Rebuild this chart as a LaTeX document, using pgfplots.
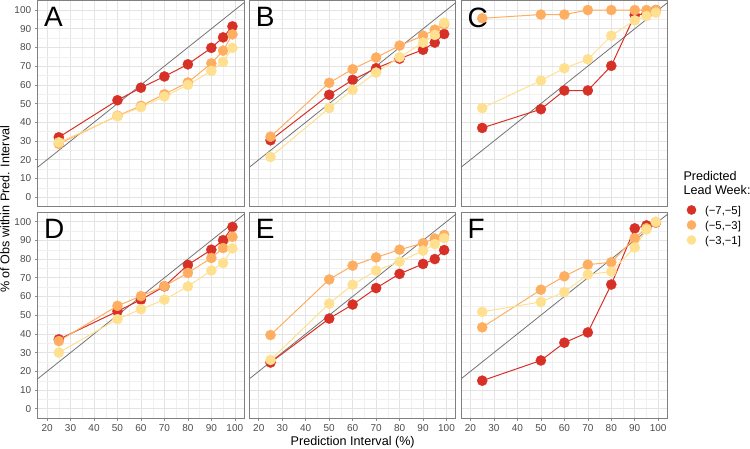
\documentclass[border=0pt]{standalone}
\usepackage{fontspec}
\setmainfont{Liberation Sans}
\usepackage{pgfplots}
\pgfplotsset{compat=1.18}
\usepackage{pgfplotstable}
\definecolor{cr}{HTML}{D73027}
\definecolor{co}{HTML}{FDAE61}
\definecolor{cy}{HTML}{FEE090}

\pgfplotstableread{
x  r    o    y
25 32.0 28.5 29.3
50 51.8 43.5 43.2
60 58.5 48.8 48.1
70 64.5 55.0 53.8
80 71.0 61.3 60.0
90 79.8 71.5 67.5
95 85.4 78.3 72.3
99 91.3 87.0 79.8
}\tA
\pgfplotstableread{
x  r    o    y
25 30.4 32.3 21.5
50 54.7 61.1 47.6
60 62.7 68.4 57.4
70 68.9 74.6 66.6
80 74.0 81.0 74.8
90 78.8 86.3 82.6
95 82.6 89.5 86.7
99 87.2 92.5 93.2
}\tB
\pgfplotstableread{
x  r     o     y
25 37.0  95.6  47.6
50 47.0  97.6  62.3
60 57.0  97.6  68.9
70 57.0  100.0 73.7
80 70.2  100.0 86.3
90 97.3  100.0 94.5
95 98.0  100.0 96.8
99 100.0 100.0 98.6
}\tC
\pgfplotstableread{
x  r    o    y
25 37.1 36.2 30.0
50 52.1 55.0 47.9
60 58.3 60.2 53.2
70 65.4 65.5 58.3
80 76.9 72.6 65.4
90 85.0 80.6 73.9
95 90.1 85.9 77.9
99 97.2 91.9 85.7
}\tD
\pgfplotstableread{
x  r    o    y
25 24.7 39.4 26.1
50 48.2 69.1 56.2
60 55.7 76.5 66.3
70 64.5 80.9 73.9
80 72.1 85.0 78.6
90 77.4 88.5 84.5
95 80.0 91.0 88.0
99 84.8 92.9 91.2
}\tE
\pgfplotstableread{
x  r    o    y
25 15.0 43.5 51.8
50 25.8 63.6 57.1
60 35.3 70.8 62.4
70 40.8 77.0 71.7
80 66.4 78.3 73.3
90 96.4 91.2 86.2
95 98.0 96.5 95.8
99 99.5 99.5 100.0
}\tF

\pgfplotsset{
  panel/.style={
    scale only axis, width=206.5pt, height=205.8pt, anchor=north west,
    xmin=16, xmax=104, ymin=-5, ymax=105,
    xtick={20,30,...,100}, ytick={0,10,...,100}, minor tick num=1,
    grid=both,
    major grid style={black!11, line width=0.6pt},
    minor grid style={black!6, line width=0.35pt},
    axis line style={black!50, line width=0.9pt},
    tick align=outside, major tick length=3pt, minor tick length=0pt,
    xtick pos=bottom, ytick pos=left,
    tick style={black!45, line width=0.6pt},
    ticklabel style={font=\fontsize{10}{12}\selectfont, text=black!70},
    /pgf/number format/assume math mode=true,
  },
  nox/.style={xticklabels={}, xtick style={draw=none}},
  noy/.style={yticklabels={}, ytick style={draw=none}},
  diag/.style={black!55, line width=0.8pt, no marks, forget plot},
  ln/.style={color=#1, line width=1.0pt, no marks, forget plot},
  mk/.style={only marks, mark=*, mark size=5.1pt, color=#1, mark options={draw=#1, fill=#1, line width=0.3pt}},
}
\tikzset{letter/.style={anchor=north west, inner sep=0pt, xshift=6.3pt, yshift=-6.6pt, font=\fontsize{28}{30}\selectfont}}

\newcommand{\series}[1]{%
  \addplot[diag] coordinates {(0,0) (120,120)};
  \addplot[ln=cr] table[x=x, y=r] {#1};
  \addplot[ln=co] table[x=x, y=o] {#1};
  \addplot[ln=cy] table[x=x, y=y] {#1};
}

\begin{document}
\begin{tikzpicture}
\useasboundingbox (0,0) rectangle (750pt,448pt);

\begin{axis}[panel, nox, at={(37.7pt,447.3pt)}]
\series{\tA}
\addplot[mk=cr] table[x=x, y=r] {\tA};
\addplot[mk=co] table[x=x, y=o] {\tA};
\addplot[mk=cy] table[x=x, y=y] {\tA};
\node[letter] at (rel axis cs:0,1) {A};
\end{axis}

\begin{axis}[panel, nox, noy, at={(249.4pt,447.3pt)}]
\series{\tB}
\addplot[mk=cr] table[x=x, y=r] {\tB};
\addplot[mk=co] table[x=x, y=o] {\tB};
\addplot[mk=cy] table[x=x, y=y] {\tB};
\node[letter] at (rel axis cs:0,1) {B};
\end{axis}

\begin{axis}[panel, nox, noy, at={(461.1pt,447.3pt)}]
\series{\tC}
\addplot[mk=cr] table[x=x, y=r] {\tC};
\addplot[mk=co] table[x=x, y=o] {\tC};
\addplot[mk=cy] table[x=x, y=y] {\tC};
\node[letter] at (rel axis cs:0,1) {C};
\end{axis}

\begin{axis}[panel, at={(37.7pt,235.7pt)}]
\series{\tD}
\addplot[mk=cr] table[x=x, y=r] {\tD};
\addplot[mk=co] table[x=x, y=o] {\tD};
\addplot[mk=cy] table[x=x, y=y] {\tD};
\node[letter] at (rel axis cs:0,1) {D};
\end{axis}

\begin{axis}[panel, noy, at={(249.4pt,235.7pt)}]
\series{\tE}
\addplot[mk=cr] table[x=x, y=r] {\tE};
\addplot[mk=co] table[x=x, y=o] {\tE};
\addplot[mk=cy] table[x=x, y=y] {\tE};
\node[letter] at (rel axis cs:0,1) {E};
\end{axis}

\begin{axis}[panel, noy, at={(461.1pt,235.7pt)},
  legend style={at={(rel axis cs:1.0935,1.0343)}, anchor=north west, draw=none, fill=none,
    inner sep=0pt, outer sep=0pt, row sep=5.5pt, column sep=9pt, font=\fontsize{11.3}{13}\selectfont,
    nodes={inner sep=0pt, text height=9.5pt, text depth=0pt}},
  legend cell align=left,
  legend image post style={mark size=4.6pt}]
\series{\tF}
\addplot[mk=cr] table[x=x, y=r] {\tF};
\addlegendentry{(−7,−5]}
\addplot[mk=co] table[x=x, y=o] {\tF};
\addlegendentry{(−5,−3]}
\addplot[mk=cy] table[x=x, y=y] {\tF};
\addlegendentry{(−3,−1]}
\node[letter] at (rel axis cs:0,1) {F};
\end{axis}

\node[rotate=90, anchor=base, inner sep=0pt, font=\fontsize{12.6}{15}\selectfont] at (9.5pt,238.6pt) {\% of Obs within Pred. Interval};
\node[anchor=base, inner sep=0pt, font=\fontsize{12.6}{15}\selectfont] at (352.7pt,3pt) {Prediction Interval (\%)};
\node[anchor=base west, inner sep=0pt, font=\fontsize{12.6}{15}\selectfont] at (683.3pt,267.3pt) {Predicted};
\node[anchor=base west, inner sep=0pt, font=\fontsize{12.6}{15}\selectfont] at (683.3pt,253pt) {Lead Week:};
\end{tikzpicture}
\end{document}
